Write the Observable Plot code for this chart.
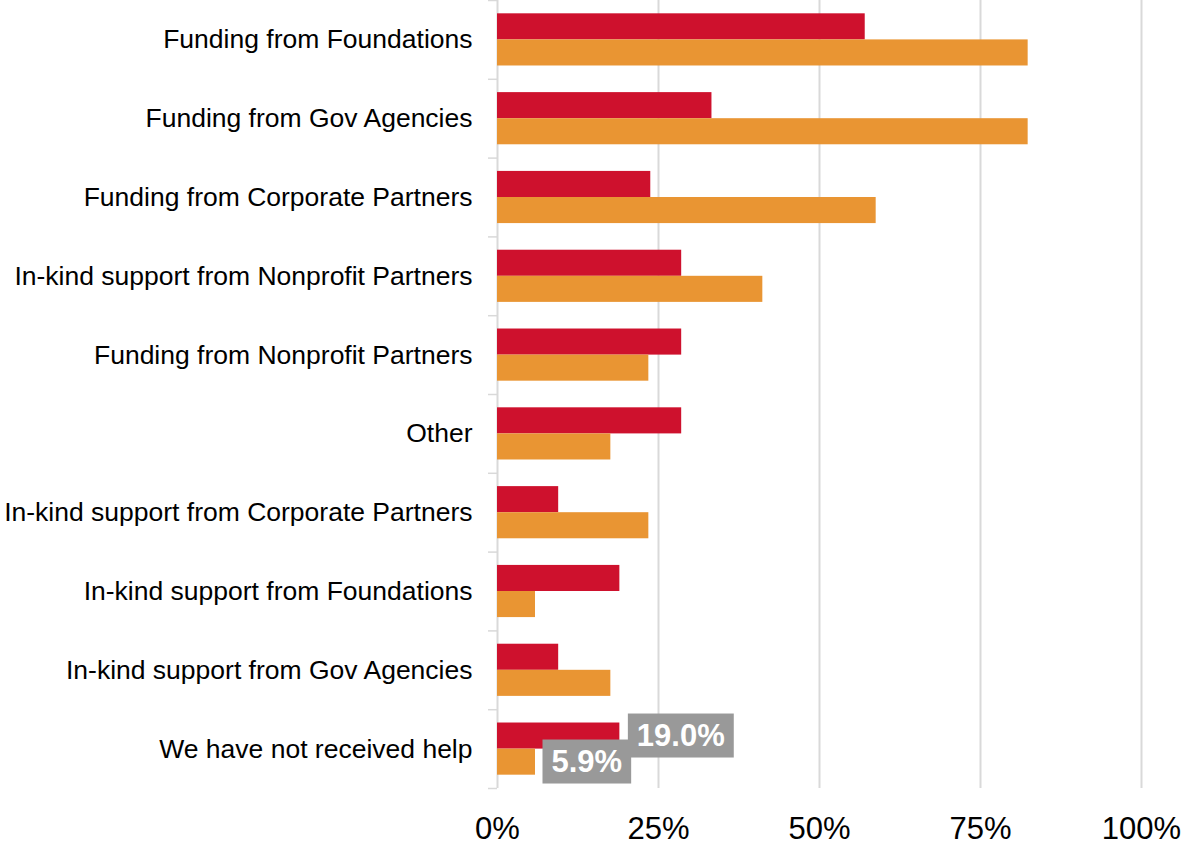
<!DOCTYPE html>
<html>
<head>
<meta charset="utf-8">
<script src="https://cdn.jsdelivr.net/npm/d3@7"></script>
<script src="https://cdn.jsdelivr.net/npm/@observablehq/plot@0.6"></script>
<style>
  html, body { margin: 0; padding: 0; background: #fff; }
  #chart { width: 1188px; height: 847px; }
</style>
</head>
<body>
<div id="chart"></div>
<script>
// ---- data ----
const categories = [
  "Funding from Foundations",
  "Funding from Gov Agencies",
  "Funding from Corporate Partners",
  "In-kind support from Nonprofit Partners",
  "Funding from Nonprofit Partners",
  "Other",
  "In-kind support from Corporate Partners",
  "In-kind support from Foundations",
  "In-kind support from Gov Agencies",
  "We have not received help"
];
const seriesNames = ["Series A", "Series B"];
const seriesA = [57.1, 33.3, 23.8, 28.6, 28.6, 28.6, 9.5, 19.0, 9.5, 19.0];
const seriesB = [82.4, 82.4, 58.8, 41.2, 23.5, 17.6, 23.5, 5.9, 17.6, 5.9];
const xTicks = [0, 25, 50, 75, 100];
const labelledCategory = "We have not received help";

// ---- build rows ----
const rowsA = categories.map((c, i) => ({category: c, series: seriesNames[0], value: seriesA[i]}));
const rowsB = categories.map((c, i) => ({category: c, series: seriesNames[1], value: seriesB[i]}));
const labelsA = rowsA.filter(d => d.category === labelledCategory);
const labelsB = rowsB.filter(d => d.category === labelledCategory);

const RED = "#CE112D", ORANGE = "#E99533", GRID = "#D9D9D9", BOX = "#999999";
const H = 847, MB = 59, MT = 0;
const band = (H - MB - MT) / categories.length; // 78.8
const half = band / 2;
const barTop = band * 0.169;        // outer padding
const barMid = band / 2;

const plot = Plot.plot({
  width: 1188,
  height: H,
  marginLeft: 497,
  marginRight: 47,
  marginTop: MT,
  marginBottom: MB,
  style: {fontFamily: "'Liberation Sans', Arial, sans-serif", background: "#fff", color: "#000"},
  x: {domain: [0, 100]},
  y: {domain: categories, padding: 0, round: false},
  marks: [
    Plot.ruleX(xTicks.slice(1), {stroke: GRID, strokeWidth: 2}),
    Plot.ruleX([0], {stroke: GRID, strokeWidth: 2}),
    Plot.axisY({tickSize: 9, tickFormat: () => "", label: null, stroke: GRID, strokeWidth: 1.5, dy: -half}),
    Plot.axisY({ticks: [categories[categories.length - 1]], tickSize: 9, tickFormat: () => "", label: null, stroke: GRID, strokeWidth: 1.5, dy: half}),
    Plot.axisY({tickSize: 0, tickPadding: 25, fontSize: 26.5, fill: "#000", label: null}),
    Plot.axisX({ticks: xTicks, tickSize: 0, tickPadding: 28, tickFormat: d => d + "%", fontSize: 31, fill: "#000", label: null}),
    Plot.barX(rowsA, {x: "value", y: "category", fill: RED, insetTop: barTop, insetBottom: band - barMid}),
    Plot.barX(rowsB, {x: "value", y: "category", fill: ORANGE, insetTop: barMid, insetBottom: barTop}),
    Plot.text(labelsA, {x: "value", y: "category", text: d => d.value.toFixed(1) + "%", dx: 17, dy: -13, textAnchor: "start", fill: "#fff", fontWeight: "bold", fontSize: 31}),
    Plot.text(labelsB, {x: "value", y: "category", text: d => d.value.toFixed(1) + "%", dx: 16, dy: 13, textAnchor: "start", fill: "#fff", fontWeight: "bold", fontSize: 31})
  ]
});
document.getElementById("chart").append(plot);

// grey label boxes behind the data labels
plot.querySelectorAll('g[aria-label="text"] text').forEach(t => {
  const bb = t.getBBox();
  const cy = bb.y + bb.height / 2;
  const r = document.createElementNS("http://www.w3.org/2000/svg", "rect");
  r.setAttribute("x", bb.x - 9);
  r.setAttribute("y", cy - 22);
  r.setAttribute("width", bb.width + 18);
  r.setAttribute("height", 44);
  r.setAttribute("fill", BOX);
  const tr = t.getAttribute("transform");
  if (tr) r.setAttribute("transform", tr);
  t.parentNode.insertBefore(r, t);
});
</script>
</body>
</html>
